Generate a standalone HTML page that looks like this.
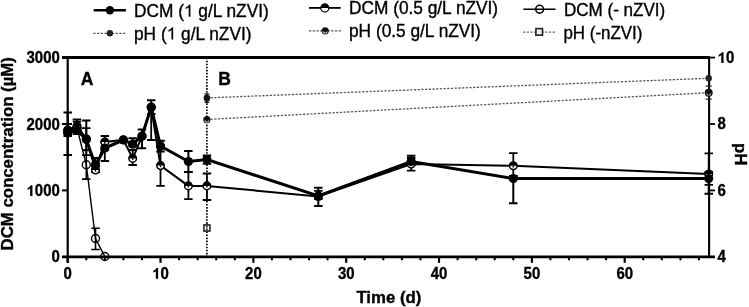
<!DOCTYPE html>
<html><head><meta charset="utf-8"><style>
html,body{margin:0;padding:0;background:#fff;width:749px;height:307px;overflow:hidden}
svg{display:block;will-change:transform}
text,g>path{font-family:"Liberation Sans",sans-serif;fill:#000;stroke:#000;stroke-width:0.35px}
</style></head><body>
<svg width="749" height="307" viewBox="0 0 749 307">
<rect width="749" height="307" fill="#fff"/>
<line x1="206.9" y1="97.9" x2="708.7" y2="78.3" stroke="#555" stroke-width="1.3" stroke-dasharray="2.2 1.5"/>
<line x1="206.9" y1="119.5" x2="708.7" y2="92.7" stroke="#555" stroke-width="1.3" stroke-dasharray="2.2 1.5"/>
<line x1="206.9" y1="57.6" x2="206.9" y2="256.8" stroke="#000" stroke-width="1.7" stroke-dasharray="1.6 1.45"/>
<path d="M62 57.6H709.1" stroke="#000" stroke-width="3" fill="none"/>
<path d="M62 256.8H715" stroke="#000" stroke-width="2.8" fill="none"/>
<path d="M67.7 56.1V262.8" stroke="#000" stroke-width="2.2" fill="none"/>
<path d="M709.1 56.1V256.8" stroke="#000" stroke-width="2.1" fill="none"/>
<path d="M62 190.4H67.7" stroke="#000" stroke-width="2" fill="none"/>
<path d="M62 124.0H67.7" stroke="#000" stroke-width="2" fill="none"/>
<path d="M62 57.6H67.7" stroke="#000" stroke-width="2" fill="none"/>
<path d="M709.1 190.4H715" stroke="#000" stroke-width="1.8" fill="none"/>
<path d="M709.1 124.0H715" stroke="#000" stroke-width="1.8" fill="none"/>
<path d="M709.1 57.6H715" stroke="#000" stroke-width="1.8" fill="none"/>
<path d="M67.7 256.8V262.8" stroke="#000" stroke-width="2.2" fill="none"/>
<path d="M86.3 256.8V260.3" stroke="#000" stroke-width="2" fill="none"/>
<path d="M104.8 256.8V260.3" stroke="#000" stroke-width="2" fill="none"/>
<path d="M123.4 256.8V260.3" stroke="#000" stroke-width="2" fill="none"/>
<path d="M142.0 256.8V260.3" stroke="#000" stroke-width="2" fill="none"/>
<path d="M160.5 256.8V262.8" stroke="#000" stroke-width="2.2" fill="none"/>
<path d="M179.1 256.8V260.3" stroke="#000" stroke-width="2" fill="none"/>
<path d="M197.7 256.8V260.3" stroke="#000" stroke-width="2" fill="none"/>
<path d="M216.2 256.8V260.3" stroke="#000" stroke-width="2" fill="none"/>
<path d="M234.8 256.8V260.3" stroke="#000" stroke-width="2" fill="none"/>
<path d="M253.4 256.8V262.8" stroke="#000" stroke-width="2.2" fill="none"/>
<path d="M271.9 256.8V260.3" stroke="#000" stroke-width="2" fill="none"/>
<path d="M290.5 256.8V260.3" stroke="#000" stroke-width="2" fill="none"/>
<path d="M309.1 256.8V260.3" stroke="#000" stroke-width="2" fill="none"/>
<path d="M327.6 256.8V260.3" stroke="#000" stroke-width="2" fill="none"/>
<path d="M346.2 256.8V262.8" stroke="#000" stroke-width="2.2" fill="none"/>
<path d="M364.8 256.8V260.3" stroke="#000" stroke-width="2" fill="none"/>
<path d="M383.3 256.8V260.3" stroke="#000" stroke-width="2" fill="none"/>
<path d="M401.9 256.8V260.3" stroke="#000" stroke-width="2" fill="none"/>
<path d="M420.5 256.8V260.3" stroke="#000" stroke-width="2" fill="none"/>
<path d="M439.0 256.8V262.8" stroke="#000" stroke-width="2.2" fill="none"/>
<path d="M457.6 256.8V260.3" stroke="#000" stroke-width="2" fill="none"/>
<path d="M476.2 256.8V260.3" stroke="#000" stroke-width="2" fill="none"/>
<path d="M494.7 256.8V260.3" stroke="#000" stroke-width="2" fill="none"/>
<path d="M513.3 256.8V260.3" stroke="#000" stroke-width="2" fill="none"/>
<path d="M531.9 256.8V262.8" stroke="#000" stroke-width="2.2" fill="none"/>
<path d="M550.4 256.8V260.3" stroke="#000" stroke-width="2" fill="none"/>
<path d="M569.0 256.8V260.3" stroke="#000" stroke-width="2" fill="none"/>
<path d="M587.5 256.8V260.3" stroke="#000" stroke-width="2" fill="none"/>
<path d="M606.1 256.8V260.3" stroke="#000" stroke-width="2" fill="none"/>
<path d="M624.7 256.8V262.8" stroke="#000" stroke-width="2.2" fill="none"/>
<path d="M643.2 256.8V260.3" stroke="#000" stroke-width="2" fill="none"/>
<path d="M661.8 256.8V260.3" stroke="#000" stroke-width="2" fill="none"/>
<path d="M680.4 256.8V260.3" stroke="#000" stroke-width="2" fill="none"/>
<path d="M698.9 256.8V260.3" stroke="#000" stroke-width="2" fill="none"/>
<polyline points="67.7,131.5 77.0,128.0 86.3,164.8 95.5,238.5 104.8,256.5" fill="none" stroke="#000" stroke-width="1.4"/>
<polyline points="67.7,130.0 77.0,126.0 86.3,138.8 95.5,170.0 104.8,142.0 123.4,139.8 132.7,158.4 142.0,136.3 151.2,107.5 160.5,165.6 188.4,185.9 206.9,185.9 318.3,196.5 411.2,164.1 513.3,165.8 708.7,174.0" fill="none" stroke="#000" stroke-width="2"/>
<polyline points="67.7,133.0 77.0,130.0 86.3,139.6 95.5,165.4 104.8,148.0 123.4,140.0 132.7,144.2 142.0,136.0 151.2,107.0 160.5,146.1 188.4,161.5 206.9,159.6 318.3,195.9 411.2,161.5 513.3,178.6 708.7,178.5" fill="none" stroke="#000" stroke-width="3"/>
<path d="M86.3 150.2V179.1M82.0 150.2H90.5M82.0 179.1H90.5" stroke="#000" stroke-width="1.6" fill="none"/>
<path d="M95.5 228.2V249.5M91.3 228.2H99.8M91.3 249.5H99.8" stroke="#000" stroke-width="1.6" fill="none"/>
<path d="M67.7 112.4V155.0M63.5 112.4H72.0M63.5 155.0H72.0" stroke="#000" stroke-width="2" fill="none"/>
<path d="M77.0 119.6V134.0M72.7 119.6H81.2M72.7 134.0H81.2" stroke="#000" stroke-width="2" fill="none"/>
<path d="M86.3 120.6V150.2M82.0 120.6H90.5M82.0 150.2H90.5" stroke="#000" stroke-width="2" fill="none"/>
<path d="M95.5 158.0V172.0M91.3 158.0H99.8M91.3 172.0H99.8" stroke="#000" stroke-width="2" fill="none"/>
<path d="M104.8 135.9V150.0M100.6 135.9H109.1M100.6 150.0H109.1" stroke="#000" stroke-width="2" fill="none"/>
<path d="M132.7 138.3V146.0M128.4 138.3H136.9M128.4 146.0H136.9" stroke="#000" stroke-width="2" fill="none"/>
<path d="M142.0 129.6V148.3M137.7 129.6H146.2M137.7 148.3H146.2" stroke="#000" stroke-width="2" fill="none"/>
<path d="M151.2 100.2V113.9M147.0 100.2H155.5M147.0 113.9H155.5" stroke="#000" stroke-width="2" fill="none"/>
<path d="M160.5 140.7V151.6M156.3 140.7H164.8M156.3 151.6H164.8" stroke="#000" stroke-width="2" fill="none"/>
<path d="M188.4 151.1V172.0M184.1 151.1H192.6M184.1 172.0H192.6" stroke="#000" stroke-width="2" fill="none"/>
<path d="M206.9 155.4V163.7M202.7 155.4H211.2M202.7 163.7H211.2" stroke="#000" stroke-width="2" fill="none"/>
<path d="M318.3 187.7V205.9M314.1 187.7H322.6M314.1 205.9H322.6" stroke="#000" stroke-width="2" fill="none"/>
<path d="M411.2 155.7V165.0M406.9 155.7H415.4M406.9 165.0H415.4" stroke="#000" stroke-width="2" fill="none"/>
<path d="M513.3 176.0V203.2M509.0 176.0H517.5M509.0 203.2H517.5" stroke="#000" stroke-width="2" fill="none"/>
<path d="M708.7 172.0V193.8M704.5 172.0H713.0M704.5 193.8H713.0" stroke="#000" stroke-width="2" fill="none"/>
<circle cx="67.7" cy="131.5" r="4" fill="none" stroke="#000" stroke-width="1.4"/>
<circle cx="77.0" cy="128" r="4" fill="none" stroke="#000" stroke-width="1.4"/>
<circle cx="86.3" cy="164.8" r="4" fill="none" stroke="#000" stroke-width="1.4"/>
<circle cx="95.5" cy="238.5" r="4" fill="none" stroke="#000" stroke-width="1.4"/>
<circle cx="104.8" cy="256.5" r="4" fill="none" stroke="#000" stroke-width="1.4"/>
<path d="M67.7 124.0V136.0M63.5 124.0H72.0M63.5 136.0H72.0" stroke="#000" stroke-width="1.8" fill="none"/>
<path d="M77.0 121.7V130.0M72.7 121.7H81.2M72.7 130.0H81.2" stroke="#000" stroke-width="1.8" fill="none"/>
<path d="M86.3 128.2V155.2M82.0 128.2H90.5M82.0 155.2H90.5" stroke="#000" stroke-width="1.8" fill="none"/>
<path d="M95.5 163.0V172.0M91.3 163.0H99.8M91.3 172.0H99.8" stroke="#000" stroke-width="1.8" fill="none"/>
<path d="M104.8 142.0V161.0M100.6 142.0H109.1M100.6 161.0H109.1" stroke="#000" stroke-width="1.8" fill="none"/>
<path d="M132.7 150.0V165.0M128.4 150.0H136.9M128.4 165.0H136.9" stroke="#000" stroke-width="1.8" fill="none"/>
<path d="M151.2 107.5V140.0M147.0 107.5H155.5M147.0 140.0H155.5" stroke="#000" stroke-width="1.8" fill="none"/>
<path d="M160.5 145.4V185.8M156.3 145.4H164.8M156.3 185.8H164.8" stroke="#000" stroke-width="1.8" fill="none"/>
<path d="M188.4 172.2V199.2M184.1 172.2H192.6M184.1 199.2H192.6" stroke="#000" stroke-width="1.8" fill="none"/>
<path d="M206.9 173.5V200.0M202.7 173.5H211.2M202.7 200.0H211.2" stroke="#000" stroke-width="1.8" fill="none"/>
<path d="M318.3 190.9V199.0M314.1 190.9H322.6M314.1 199.0H322.6" stroke="#000" stroke-width="1.8" fill="none"/>
<path d="M411.2 158.0V170.6M406.9 158.0H415.4M406.9 170.6H415.4" stroke="#000" stroke-width="1.8" fill="none"/>
<path d="M513.3 153.2V176.0M509.0 153.2H517.5M509.0 176.0H517.5" stroke="#000" stroke-width="1.8" fill="none"/>
<path d="M708.7 153.4V184.8M704.5 153.4H713.0M704.5 184.8H713.0" stroke="#000" stroke-width="1.8" fill="none"/>
<circle cx="67.7" cy="130.0" r="3.8" fill="#fff" stroke="#000" stroke-width="1.5"/><path d="M63.9 130.0A3.8 3.8 0 0 1 71.5 130.0Z" fill="#000"/>
<path d="M67.7 130v1.6" stroke="#000" stroke-width="1.4"/>
<circle cx="77.0" cy="126.0" r="3.8" fill="#fff" stroke="#000" stroke-width="1.5"/><path d="M73.2 126.0A3.8 3.8 0 0 1 80.8 126.0Z" fill="#000"/>
<path d="M77.0 126v1.6" stroke="#000" stroke-width="1.4"/>
<circle cx="86.3" cy="138.8" r="3.8" fill="#fff" stroke="#000" stroke-width="1.5"/><path d="M82.5 138.8A3.8 3.8 0 0 1 90.1 138.8Z" fill="#000"/>
<path d="M86.3 138.8v1.6" stroke="#000" stroke-width="1.4"/>
<circle cx="95.5" cy="170.0" r="3.8" fill="#fff" stroke="#000" stroke-width="1.5"/><path d="M91.7 170.0A3.8 3.8 0 0 1 99.3 170.0Z" fill="#000"/>
<path d="M95.5 170v1.6" stroke="#000" stroke-width="1.4"/>
<circle cx="104.8" cy="142.0" r="3.8" fill="#fff" stroke="#000" stroke-width="1.5"/><path d="M101.0 142.0A3.8 3.8 0 0 1 108.6 142.0Z" fill="#000"/>
<path d="M104.8 142v1.6" stroke="#000" stroke-width="1.4"/>
<circle cx="123.4" cy="139.8" r="3.8" fill="#fff" stroke="#000" stroke-width="1.5"/><path d="M119.6 139.8A3.8 3.8 0 0 1 127.2 139.8Z" fill="#000"/>
<path d="M123.4 139.8v1.6" stroke="#000" stroke-width="1.4"/>
<circle cx="132.7" cy="158.4" r="3.8" fill="#fff" stroke="#000" stroke-width="1.5"/><path d="M128.9 158.4A3.8 3.8 0 0 1 136.5 158.4Z" fill="#000"/>
<path d="M132.7 158.4v1.6" stroke="#000" stroke-width="1.4"/>
<circle cx="142.0" cy="136.3" r="3.8" fill="#fff" stroke="#000" stroke-width="1.5"/><path d="M138.2 136.3A3.8 3.8 0 0 1 145.8 136.3Z" fill="#000"/>
<path d="M142.0 136.3v1.6" stroke="#000" stroke-width="1.4"/>
<circle cx="151.2" cy="107.5" r="3.8" fill="#fff" stroke="#000" stroke-width="1.5"/><path d="M147.4 107.5A3.8 3.8 0 0 1 155.0 107.5Z" fill="#000"/>
<path d="M151.2 107.5v1.6" stroke="#000" stroke-width="1.4"/>
<circle cx="160.5" cy="165.6" r="3.8" fill="#fff" stroke="#000" stroke-width="1.5"/><path d="M156.7 165.6A3.8 3.8 0 0 1 164.3 165.6Z" fill="#000"/>
<path d="M160.5 165.6v1.6" stroke="#000" stroke-width="1.4"/>
<circle cx="188.4" cy="185.9" r="3.8" fill="#fff" stroke="#000" stroke-width="1.5"/><path d="M184.6 185.9A3.8 3.8 0 0 1 192.2 185.9Z" fill="#000"/>
<path d="M188.4 185.9v1.6" stroke="#000" stroke-width="1.4"/>
<circle cx="206.9" cy="185.9" r="3.8" fill="#fff" stroke="#000" stroke-width="1.5"/><path d="M203.1 185.9A3.8 3.8 0 0 1 210.7 185.9Z" fill="#000"/>
<path d="M206.9 185.9v1.6" stroke="#000" stroke-width="1.4"/>
<circle cx="318.3" cy="196.5" r="3.8" fill="#fff" stroke="#000" stroke-width="1.5"/><path d="M314.5 196.5A3.8 3.8 0 0 1 322.1 196.5Z" fill="#000"/>
<path d="M318.3 196.5v1.6" stroke="#000" stroke-width="1.4"/>
<circle cx="411.2" cy="164.1" r="3.8" fill="#fff" stroke="#000" stroke-width="1.5"/><path d="M407.4 164.1A3.8 3.8 0 0 1 415.0 164.1Z" fill="#000"/>
<path d="M411.2 164.1v1.6" stroke="#000" stroke-width="1.4"/>
<circle cx="513.3" cy="165.8" r="3.8" fill="#fff" stroke="#000" stroke-width="1.5"/><path d="M509.5 165.8A3.8 3.8 0 0 1 517.1 165.8Z" fill="#000"/>
<path d="M513.3 165.8v1.6" stroke="#000" stroke-width="1.4"/>
<circle cx="708.7" cy="174.0" r="3.8" fill="#fff" stroke="#000" stroke-width="1.5"/><path d="M704.9 174.0A3.8 3.8 0 0 1 712.5 174.0Z" fill="#000"/>
<path d="M708.7 174v1.6" stroke="#000" stroke-width="1.4"/>
<circle cx="67.7" cy="133" r="4.6" fill="#000"/>
<circle cx="77.0" cy="130" r="4.6" fill="#000"/>
<circle cx="86.3" cy="139.6" r="4.6" fill="#000"/>
<circle cx="95.5" cy="165.4" r="4.6" fill="#000"/>
<circle cx="104.8" cy="148" r="4.6" fill="#000"/>
<circle cx="123.4" cy="140" r="4.6" fill="#000"/>
<circle cx="132.7" cy="144.2" r="4.6" fill="#000"/>
<circle cx="142.0" cy="136" r="4.6" fill="#000"/>
<circle cx="151.2" cy="107" r="4.6" fill="#000"/>
<circle cx="160.5" cy="146.1" r="4.6" fill="#000"/>
<circle cx="188.4" cy="161.5" r="4.6" fill="#000"/>
<circle cx="206.9" cy="159.6" r="4.6" fill="#000"/>
<circle cx="318.3" cy="195.9" r="4.6" fill="#000"/>
<circle cx="411.2" cy="161.5" r="4.6" fill="#000"/>
<circle cx="513.3" cy="178.6" r="4.6" fill="#000"/>
<circle cx="708.7" cy="178.5" r="4.6" fill="#000"/>
<path d="M204.4 93.8h5M204.4 102.4h5M206.9 93.8V102.4" stroke="#222" stroke-width="1.2"/>
<ellipse cx="206.9" cy="98.1" rx="3.3" ry="3.6" fill="#111"/>
<circle cx="708.7" cy="78.3" r="3.2" fill="#222"/>
<circle cx="206.9" cy="119.7" r="3.6" fill="#111"/><path d="M204.9 120.6a2 1.6 0 0 0 4 0" stroke="#ccc" stroke-width="1.1" fill="none"/>
<path d="M705.7 86.1h6M705.7 99.1h6M708.7 86.1V99.1" stroke="#222" stroke-width="1.2"/>
<circle cx="708.7" cy="92.7" r="4" fill="#111"/><path d="M706.5 93.6a2.2 1.7 0 0 0 4.4 0" stroke="#888" stroke-width="1.1" fill="none"/>
<rect x="203.9" y="224.9" width="6" height="6.2" fill="#fff" stroke="#1a1a1a" stroke-width="1.5"/>
<path d="M205.3 225.6L206.9 227.7L208.5 225.6ZM205.3 230.4L206.9 228.3L208.5 230.4Z" fill="#333"/><path d="M206.9 225.8V230.2" stroke="#333" stroke-width="0.8"/>
<path d="M93.7 10.3H125.9" stroke="#000" stroke-width="2.6"/><circle cx="109.9" cy="10.3" r="4.2" fill="#000"/>
<path d="M93.3 33.3H126" stroke="#555" stroke-width="1.2" stroke-dasharray="2.3 1.4"/><circle cx="109.9" cy="33.3" r="3.2" fill="#222"/>
<path d="M309 7.9H340.7" stroke="#000" stroke-width="1.8"/><circle cx="324.8" cy="7.9" r="4.0" fill="#fff" stroke="#000" stroke-width="1.2"/><path d="M320.8 7.9A4.0 4.0 0 0 1 328.8 7.9Z" fill="#000"/>
<path d="M309 30.9H341.4" stroke="#555" stroke-width="1.3" stroke-dasharray="2.3 1.4"/><circle cx="325.2" cy="30.8" r="3.6" fill="#111"/><path d="M323.2 31.6a2 1.6 0 0 0 4 0" stroke="#ddd" stroke-width="1.1" fill="none"/>
<path d="M523.3 9.2H555.6" stroke="#000" stroke-width="1.4"/><circle cx="539.6" cy="9.2" r="3.9" fill="none" stroke="#000" stroke-width="1.6"/>
<path d="M523 32.1H555" stroke="#666" stroke-width="1.3" stroke-dasharray="2.3 1.4"/><rect x="535.9" y="28.6" width="6.6" height="6.6" fill="#eee" stroke="#222" stroke-width="1.6"/>
<g transform="translate(134.0 16.8) scale(1.0 1.04)"><text font-size="17.3" font-weight="400" text-anchor="start">DCM (  g/L nZVI)</text><path transform="translate(49.88 0) scale(0.00845 -0.00845)" d="M775 0H570V1090Q505 1030 400 972Q300 915 215 885V1060Q374 1127 487 1224Q600 1320 647 1409H775Z"/></g>
<g transform="translate(134.0 39.6) scale(1.0 1.04)"><text font-size="17.3" font-weight="400" text-anchor="start">pH (  g/L nZVI)</text><path transform="translate(32.62 0) scale(0.00845 -0.00845)" d="M775 0H570V1090Q505 1030 400 972Q300 915 215 885V1060Q374 1127 487 1224Q600 1320 647 1409H775Z"/></g>
<g transform="translate(349.0 14.3) scale(1.0 1.04)"><text font-size="17.3" font-weight="400" text-anchor="start">DCM (0.5 g/L nZVI)</text></g>
<g transform="translate(349.0 37.1) scale(1.0 1.04)"><text font-size="17.3" font-weight="400" text-anchor="start">pH (0.5 g/L nZVI)</text></g>
<g transform="translate(564.0 15.8) scale(0.985 1.04)"><text font-size="17.3" font-weight="400" text-anchor="start">DCM (- nZVI)</text></g>
<g transform="translate(563.4 38.6) scale(0.98 1.04)"><text font-size="17.3" font-weight="400" text-anchor="start">pH (-nZVI)</text></g>
<g transform="translate(59.8 262.4) scale(0.96 1.0)"><text font-size="15.6" font-weight="700" text-anchor="end">0</text></g>
<g transform="translate(59.8 196.0) scale(0.96 1.0)"><text font-size="15.6" font-weight="700" text-anchor="end"> 000</text><path transform="translate(-34.70 0) scale(0.00762 -0.00762)" d="M815 0H500V1000C400 910 280 850 150 812V1062C234 1087 318 1130 407 1195C496 1260 548 1330 571 1409H815Z"/></g>
<g transform="translate(59.8 129.6) scale(0.96 1.0)"><text font-size="15.6" font-weight="700" text-anchor="end">2000</text></g>
<g transform="translate(59.8 63.2) scale(0.96 1.0)"><text font-size="15.6" font-weight="700" text-anchor="end">3000</text></g>
<g transform="translate(717.6 262.1) scale(0.96 1.0)"><text font-size="15.6" font-weight="700" text-anchor="start">4</text></g>
<g transform="translate(717.6 195.7) scale(0.96 1.0)"><text font-size="15.6" font-weight="700" text-anchor="start">6</text></g>
<g transform="translate(717.6 129.3) scale(0.96 1.0)"><text font-size="15.6" font-weight="700" text-anchor="start">8</text></g>
<g transform="translate(717.6 62.9) scale(0.96 1.0)"><text font-size="15.6" font-weight="700" text-anchor="start"> 0</text><path transform="translate(0.00 0) scale(0.00762 -0.00762)" d="M815 0H500V1000C400 910 280 850 150 812V1062C234 1087 318 1130 407 1195C496 1260 548 1330 571 1409H815Z"/></g>
<g transform="translate(67.7 278.8) scale(0.96 1.0)"><text font-size="15.6" font-weight="700" text-anchor="middle">0</text></g>
<g transform="translate(160.5 278.8) scale(0.96 1.0)"><text font-size="15.6" font-weight="700" text-anchor="middle"> 0</text><path transform="translate(-8.68 0) scale(0.00762 -0.00762)" d="M815 0H500V1000C400 910 280 850 150 812V1062C234 1087 318 1130 407 1195C496 1260 548 1330 571 1409H815Z"/></g>
<g transform="translate(253.4 278.8) scale(0.96 1.0)"><text font-size="15.6" font-weight="700" text-anchor="middle">20</text></g>
<g transform="translate(346.2 278.8) scale(0.96 1.0)"><text font-size="15.6" font-weight="700" text-anchor="middle">30</text></g>
<g transform="translate(439.0 278.8) scale(0.96 1.0)"><text font-size="15.6" font-weight="700" text-anchor="middle">40</text></g>
<g transform="translate(531.9 278.8) scale(0.96 1.0)"><text font-size="15.6" font-weight="700" text-anchor="middle">50</text></g>
<g transform="translate(624.7 278.8) scale(0.96 1.0)"><text font-size="15.6" font-weight="700" text-anchor="middle">60</text></g>
<g transform="translate(388.9 303) scale(1.0 1.0)"><text font-size="16.8" font-weight="700" text-anchor="middle">Time (d)</text></g>
<g transform="translate(87 84.5) scale(1.0 1.0)"><text font-size="17.5" font-weight="700" text-anchor="middle">A</text></g>
<g transform="translate(224.6 84.5) scale(1.0 1.0)"><text font-size="17.5" font-weight="700" text-anchor="middle">B</text></g>
<text transform="translate(12.9 153.8) rotate(-90)" font-size="16.8" font-weight="700" text-anchor="middle">DCM concentration (µM)</text>
<text transform="translate(735.3 154.2) rotate(90)" font-size="16.8" font-weight="700" text-anchor="middle">pH</text>
</svg>
</body></html>
